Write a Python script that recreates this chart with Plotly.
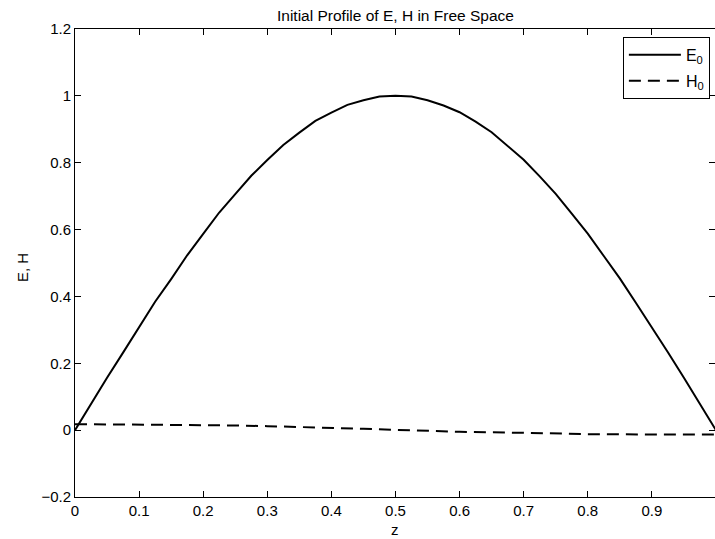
import plotly.graph_objects as go

# Data
z = [0.0, 0.025, 0.05, 0.075, 0.1, 0.125, 0.15, 0.175, 0.2, 0.225, 0.25,
     0.275, 0.3, 0.325, 0.35, 0.375, 0.4, 0.425, 0.45, 0.475, 0.5,
     0.525, 0.55, 0.575, 0.6, 0.625, 0.65, 0.675, 0.7, 0.725, 0.75,
     0.775, 0.8, 0.825, 0.85, 0.875, 0.9, 0.925, 0.95, 0.975, 1.0]
E0 = [0.0, 0.079, 0.157, 0.232, 0.309, 0.384, 0.452, 0.523, 0.587, 0.651, 0.706,
      0.761, 0.808, 0.853, 0.890, 0.925, 0.950, 0.973, 0.987, 0.998, 1.0,
      0.998, 0.987, 0.971, 0.951, 0.923, 0.891, 0.851, 0.809, 0.759, 0.707,
      0.648, 0.588, 0.521, 0.454, 0.381, 0.309, 0.233, 0.157, 0.078, 0.0]
zH = [0.0, 0.1, 0.2, 0.25, 0.3, 0.4, 0.45, 0.5, 0.55, 0.6, 0.7, 0.75, 0.8, 0.9, 1.0]
H0 = [0.018, 0.017, 0.016, 0.014, 0.012, 0.008, 0.004, 0.001, -0.002, -0.005,
      -0.008, -0.010, -0.012, -0.013, -0.013]

xtick_vals = [0, 0.1, 0.2, 0.3, 0.4, 0.5, 0.6, 0.7, 0.8, 0.9]
xtick_text = ["0", "0.1", "0.2", "0.3", "0.4", "0.5", "0.6", "0.7", "0.8", "0.9"]
ytick_vals = [-0.2, 0, 0.2, 0.4, 0.6, 0.8, 1.0, 1.2]
ytick_text = ["\u22120.2", "0", "0.2", "0.4", "0.6", "0.8", "1", "1.2"]

FONT = "Liberation Sans, Arial, Helvetica, sans-serif"

fig = go.Figure()
fig.add_trace(go.Scatter(x=z, y=E0, mode="lines", name="E<sub>0</sub>", legendgroup="e",
                         line=dict(color="black", width=2)))
fig.add_trace(go.Scatter(x=zH, y=H0, mode="lines", name="H<sub>0</sub>", legendgroup="h",
                         line=dict(color="black", width=2, dash="12px,7px")))

axis_common = dict(showgrid=False, zeroline=False, showline=True, linecolor="black",
                   linewidth=1, mirror="ticks", ticks="inside", ticklen=6,
                   tickcolor="black", tickwidth=1,
                   tickfont=dict(family=FONT, size=15, color="black"))

fig.update_layout(
    width=715, height=539,
    margin=dict(l=75, r=0, t=29, b=42),
    paper_bgcolor="white", plot_bgcolor="white",
    font=dict(family=FONT, size=15, color="black"),
    xaxis=dict(range=[0, 0.9985], tickvals=xtick_vals, ticktext=xtick_text, **axis_common),
    yaxis=dict(range=[-0.2, 1.2], tickvals=ytick_vals, ticktext=ytick_text, **axis_common),
    legend=dict(x=0.992, y=0.983, xanchor="right", yanchor="top",
                bgcolor="white", bordercolor="black", borderwidth=1,
                font=dict(family=FONT, size=16, color="black"),
                tracegroupgap=2, itemwidth=52),
    showlegend=True,
    annotations=[
        dict(text="Initial Profile of E, H in Free Space", xref="paper", yref="paper",
             x=0.5, y=1 + (29 - 15) / 468, xanchor="center", yanchor="middle",
             showarrow=False, font=dict(family=FONT, size=15.5, color="black")),
        dict(text="z", xref="paper", yref="paper", x=0.5, y=-(529 - 497) / 468,
             xanchor="center", yanchor="middle", showarrow=False,
             font=dict(family=FONT, size=15, color="black")),
        dict(text="E, H", xref="paper", yref="paper", x=-(75 - 22) / 640,
             y=(497 - 268) / 468, xanchor="center", yanchor="middle", textangle=-90,
             showarrow=False, font=dict(family=FONT, size=15, color="black")),
    ],
)

fig.write_html("out.html")
